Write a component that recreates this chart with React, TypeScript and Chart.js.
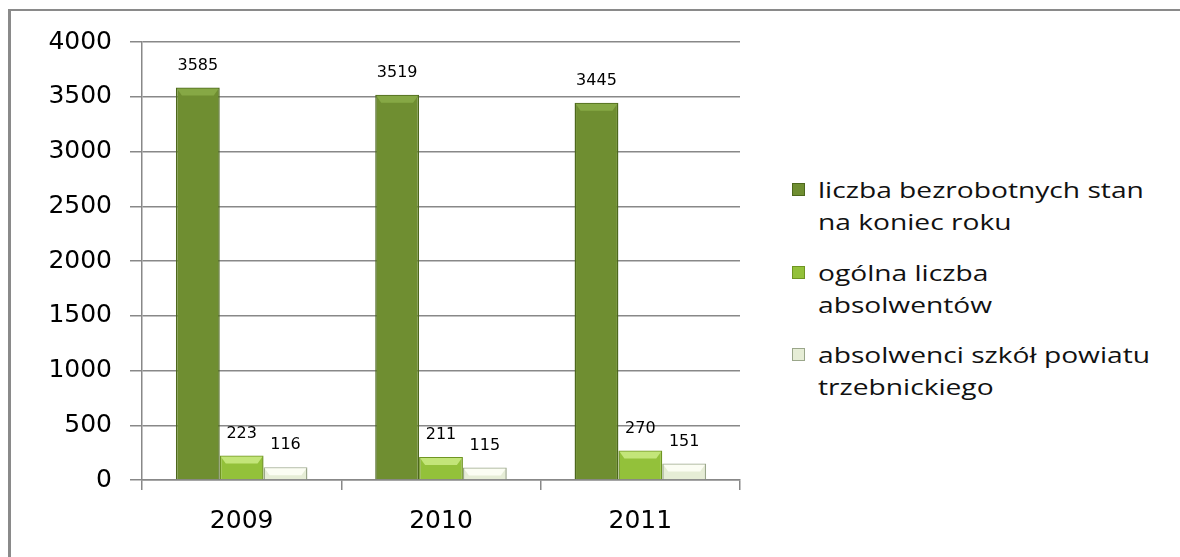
import React, { useEffect, useRef } from "react";
import { Chart, registerables } from "chart.js";

Chart.register(...registerables);

const categories = ["2009", "2010", "2011"];
const seriesNames = [
  ["liczba bezrobotnych stan", "na koniec roku"],
  ["ogólna liczba", "absolwentów"],
  ["absolwenci szkół powiatu", "trzebnickiego"],
];
const unemployed = [3585, 3519, 3445];
const graduatesTotal = [223, 211, 270];
const graduatesLocal = [116, 115, 151];
const yTicks = [0, 500, 1000, 1500, 2000, 2500, 3000, 3500, 4000];

const fills = ["#6f8e31", "#93c13a", "#e6edd6"];
const borders = ["#4d681c", "#6f9522", "#9aa68a"];
const bevels = ["#86a845", "#c3e579", "#fbfdf3"];

const bevelPlugin = {
  id: "bevel",
  afterDatasetsDraw(chart: any) {
    const ctx = chart.ctx;
    chart.data.datasets.forEach((ds: any, di: number) => {
      const meta = chart.getDatasetMeta(di);
      meta.data.forEach((bar: any) => {
        const left = bar.x - bar.width / 2;
        const right = bar.x + bar.width / 2;
        const top = bar.y;
        const h = Math.min(8, bar.base - bar.y);
        ctx.save();
        ctx.fillStyle = bevels[di];
        ctx.beginPath();
        ctx.moveTo(left + 1, top + 1);
        ctx.lineTo(right - 1, top + 1);
        ctx.lineTo(right - 6, top + h);
        ctx.lineTo(left + 6, top + h);
        ctx.closePath();
        ctx.fill();
        ctx.restore();
      });
    });
  },
};

const labelPlugin = {
  id: "valueLabels",
  afterDatasetsDraw(chart: any) {
    const ctx = chart.ctx;
    ctx.save();
    ctx.font = "16px 'DejaVu Sans'";
    ctx.fillStyle = "#000";
    ctx.textAlign = "center";
    ctx.textBaseline = "middle";
    chart.data.datasets.forEach((ds: any, di: number) => {
      const meta = chart.getDatasetMeta(di);
      meta.data.forEach((bar: any, i: number) => {
        ctx.fillText(String(ds.data[i]), bar.x, bar.y - 22);
      });
    });
    ctx.restore();
  },
};

export default function App() {
  const ref = useRef<HTMLCanvasElement>(null);
  useEffect(() => {
    const chart = new Chart(ref.current!, {
      type: "bar",
      data: {
        labels: categories,
        datasets: [unemployed, graduatesTotal, graduatesLocal].map((d, i) => ({
          label: seriesNames[i].join(" "),
          data: d,
          backgroundColor: fills[i],
          borderColor: borders[i],
          borderWidth: 1.5,
          categoryPercentage: 0.66,
          barPercentage: 1,
        })),
      },
      options: {
        animation: false,
        responsive: false,
        devicePixelRatio: 1,
        layout: { padding: { top: 42, right: 10, left: 0, bottom: 0 } },
        plugins: { legend: { display: false }, tooltip: { enabled: false } },
        scales: {
          x: {
            afterFit: (s: any) => {
              s.height = 77;
            },
            grid: {
              offset: true,
              drawOnChartArea: false,
              drawTicks: true,
              tickLength: 10,
              color: "#888",
              lineWidth: 1.5,
            },
            border: { display: true, color: "#888", width: 1.5 },
            ticks: {
              font: { family: "'DejaVu Sans'", size: 25 },
              color: "#000",
              padding: 16,
            },
          },
          y: {
            min: 0,
            max: 4000,
            afterFit: (s: any) => {
              s.width = 142;
            },
            afterBuildTicks: (s: any) => {
              s.ticks = yTicks.map((v) => ({ value: v }));
            },
            grid: { color: "#888", lineWidth: 1.5, tickLength: 12 },
            border: { display: true, color: "#888", width: 1.5 },
            ticks: {
              font: { family: "'DejaVu Sans'", size: 25 },
              color: "#000",
              padding: 18,
              callback: (v: any) => String(v),
            },
          },
        },
      },
      plugins: [bevelPlugin, labelPlugin],
    });
    return () => chart.destroy();
  }, []);

  const legendTops = [173, 256, 338];
  return (
    <div
      style={{
        position: "fixed",
        left: 0,
        top: 0,
        width: 1180,
        height: 557,
        background: "#fff",
        overflow: "hidden",
      }}
    >
      <div
        style={{
          position: "absolute",
          left: 8,
          top: 9,
          width: 1180,
          height: 560,
          borderTop: "2px solid #8a8a8a",
          borderLeft: "3px solid #8a8a8a",
        }}
      />
      <canvas
        ref={ref}
        width={750}
        height={557}
        style={{ position: "absolute", left: 0, top: 0 }}
      />
      {seriesNames.map((lines, i) => (
        <div
          key={i}
          style={{
            position: "absolute",
            left: 792,
            top: legendTops[i],
            fontFamily: "'Open Sans', sans-serif",
            fontSize: 22,
            lineHeight: "32px",
            color: "#111",
            whiteSpace: "nowrap",
          }}
        >
          <span
            style={{
              position: "absolute",
              left: 0,
              top: 10,
              width: 11,
              height: 11,
              background: fills[i],
              border: `1px solid ${borders[i]}`,
            }}
          />
          <div
            style={{
              marginLeft: 26,
              transform: "scaleX(1.28)",
              transformOrigin: "left center",
            }}
          >
            {lines.map((t, j) => (
              <div key={j}>{t}</div>
            ))}
          </div>
        </div>
      ))}
    </div>
  );
}
